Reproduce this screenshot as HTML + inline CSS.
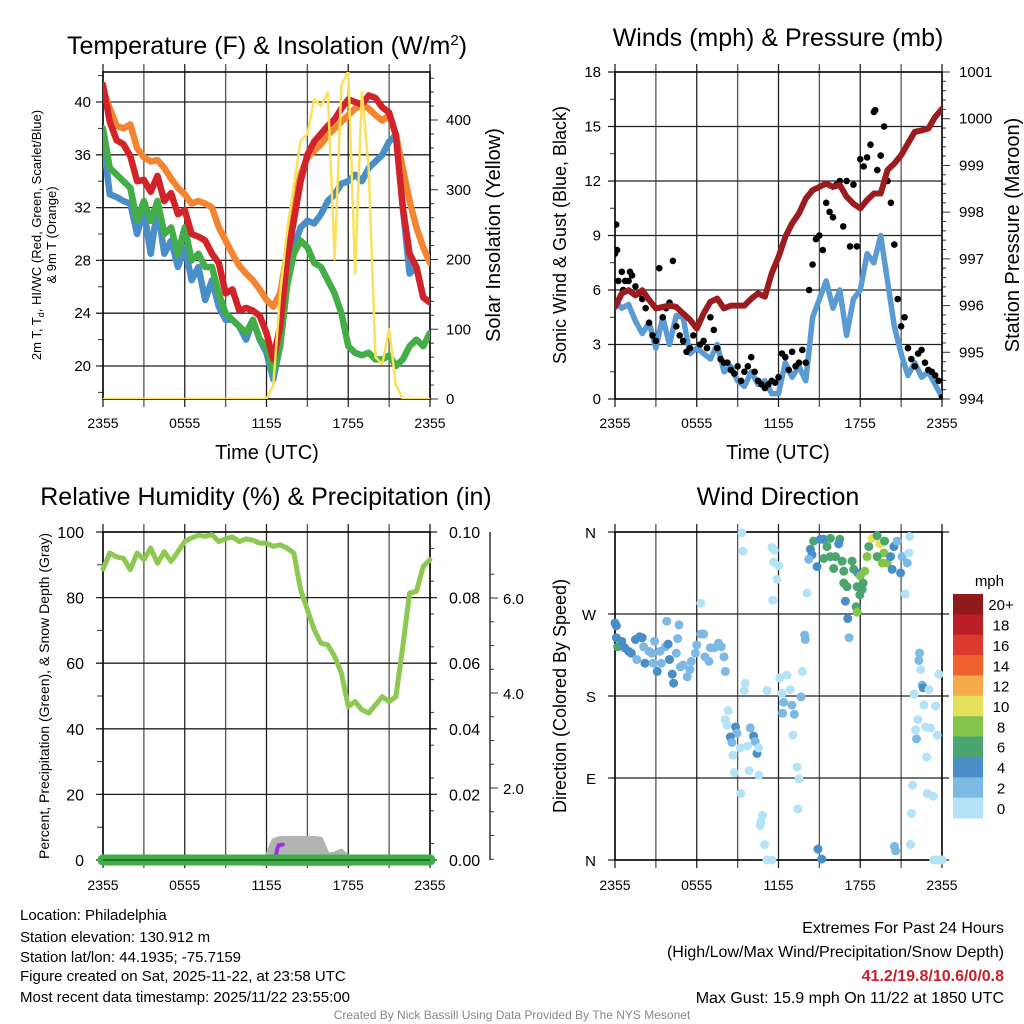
<!DOCTYPE html>
<html><head><meta charset="utf-8"><style>
html,body{margin:0;padding:0;background:#fff;}
svg{display:block;font-family:"Liberation Sans",Arial,sans-serif;}
</style></head><body>
<svg id="chart" width="1024" height="1024" viewBox="0 0 1024 1024" xmlns="http://www.w3.org/2000/svg">
<defs>
<clipPath id="c1"><rect x="103" y="72" width="327" height="327"/></clipPath>
<clipPath id="c2"><rect x="615" y="72" width="327" height="327"/></clipPath>
<clipPath id="c3"><rect x="97" y="526" width="340" height="340"/></clipPath>
<clipPath id="c4"><rect x="608" y="526" width="342" height="340"/></clipPath>
</defs>
<text x="267" y="54" font-size="25" text-anchor="middle">Temperature (F) &amp; Insolation (W/m<tspan font-size="15" dy="-9">2</tspan><tspan dy="9">)</tspan></text>
<text x="778" y="46" font-size="25" text-anchor="middle">Winds (mph) &amp; Pressure (mb)</text>
<text x="266" y="505" font-size="25" text-anchor="middle">Relative Humidity (%) &amp; Precipitation (in)</text>
<text x="778" y="505" font-size="25" text-anchor="middle">Wind Direction</text>
<text x="267" y="459" font-size="20" text-anchor="middle">Time (UTC)</text>
<text x="778" y="459" font-size="20" text-anchor="middle">Time (UTC)</text>
<text transform="translate(41,235) rotate(-90)" font-size="13" text-anchor="middle">2m T, T<tspan font-size="9" dy="3">d</tspan><tspan dy="-3">, HI/WC (Red, Green, Scarlet/Blue)</tspan></text>
<text transform="translate(56,235) rotate(-90)" font-size="13" text-anchor="middle">&amp; 9m T (Orange)</text>
<text transform="translate(500,235) rotate(-90)" font-size="20" text-anchor="middle">Solar Insolation (Yellow)</text>
<text transform="translate(566,235) rotate(-90)" font-size="18" text-anchor="middle">Sonic Wind &amp; Gust (Blue, Black)</text>
<text transform="translate(1019,235) rotate(-90)" font-size="20" text-anchor="middle">Station Pressure (Maroon)</text>
<text transform="translate(49,696) rotate(-90)" font-size="14" text-anchor="middle">Percent, Precipitation (Green), &amp; Snow Depth (Gray)</text>
<text transform="translate(566,696) rotate(-90)" font-size="18" text-anchor="middle">Direction (Colored By Speed)</text>
<text x="1004" y="586" font-size="15" text-anchor="end">mph</text>
<g font-size="15">
<text x="20" y="920">Location: Philadelphia</text>
<text x="20" y="942">Station elevation: 130.912 m</text>
<text x="20" y="962">Station lat/lon: 44.1935; -75.7159</text>
<text x="20" y="981">Figure created on Sat, 2025-11-22, at 23:58 UTC</text>
<text x="20" y="1002">Most recent data timestamp: 2025/11/22 23:55:00</text>
</g>
<g font-size="16" text-anchor="end">
<text x="1004" y="933">Extremes For Past 24 Hours</text>
<text x="1004" y="957">(High/Low/Max Wind/Precipitation/Snow Depth)</text>
<text x="1004" y="981" font-weight="bold" fill="#c8202a">41.2/19.8/10.6/0/0.8</text>
<text x="1004" y="1003">Max Gust: 15.9 mph On 11/22 at 1850 UTC</text>
</g>
<text x="512" y="1019" font-size="12" fill="#888" text-anchor="middle">Created By Nick Bassill Using Data Provided By The NYS Mesonet</text>
</svg>
<script>
// ---------- data ----------
const timeTickLabels = ["2355","0555","1155","1755","2355"];
const tempTicks = [20,24,28,32,36,40];
const insolTicks = [0,100,200,300,400];
const windTicks = [0,3,6,9,12,15,18];
const presTicks = [994,995,996,997,998,999,1000,1001];
const rhTicks = [0,20,40,60,80,100];
const precipTickLabels = ["0.00","0.02","0.04","0.06","0.08","0.10"];
const snowTicks = [2,4,6];
const dirTickLabels = ["N","E","S","W","N"];
const speedBinLabels = ["20+","18","16","14","12","10","8","6","4","2","0"];
// half-hourly temperature series (F), 0..24 h
const tempRed = [41.3,38.5,37.1,36.8,35.9,34.0,34.1,33.2,34.4,32.5,33.1,31.5,31.8,30.0,29.8,29.5,28.5,27.8,25.5,25.8,24.2,24.4,24.2,23.8,22.5,20.5,23,28,31,34,36,37,37.6,38.2,38.7,39.5,40.2,40.0,39.8,40.5,40.3,39.6,39.2,37.5,32,28.5,27.5,25.2,24.8];
const tempOrange = [41.0,39.5,38.2,38.0,38.3,36.5,35.8,35.5,35.6,35.0,34.2,33.5,33.0,32.3,32.5,32.3,32.0,30.5,29.5,28.5,27.6,27.0,26.5,25.8,25.0,24.5,25.5,28.5,32,34.5,35.8,36.3,36.8,37.5,38.0,38.5,39.0,39.5,39.8,39.5,39.0,38.6,39.0,37.5,35.0,32.5,30.5,29.0,27.8];
const tempGreen = [38.0,35.0,34.5,34.0,33.5,31.0,32.5,31.0,32.5,30.0,30.5,28.5,30.5,28.0,28.5,27.5,27.5,25.5,24.0,23.5,23.0,22.5,23.5,22.0,21.5,19.5,21.5,26,28.5,29.5,29.0,27.8,27.5,26.5,25.5,24.0,21.5,21.0,20.8,21.0,20.5,20.5,20.8,20.0,20.5,21.5,22.0,21.5,22.5];
const tempBlue = [37.0,33.0,32.8,32.5,32.3,30.0,31.8,28.5,32.0,28.5,29.5,27.5,29.0,26.5,27.5,25.0,26.5,24.5,23.5,23.5,23.0,22.0,23.5,22.0,21.0,19.0,21.5,26,29,30.5,31.0,30.8,31.5,32.5,33.0,33.8,34.0,34.5,34.0,35.0,35.5,36.0,37.0,37.5,32,27,27.5,25.2,24.8];
const insolation = [0,0,0,0,0,0,0,0,0,0,0,0,0,0,0,0,0,0,0,0,0,0,0,0,0,20,150,240,305,370,380,430,420,440,200,450,470,180,440,330,60,50,100,20,0,0,0,0,0];
// wind (mph) half-hourly, gust quarter-hourly, pressure (mb) half-hourly
const windSpeed = [5.4,5.0,5.2,4.3,3.6,4.2,2.8,4.5,3.0,4.6,4.5,2.5,2.8,2.5,2.2,3.0,1.5,1.8,1.0,0.7,1.5,0.8,1.0,0.3,0.3,2.0,1.2,1.8,1.0,4.5,5.5,6.5,5.0,6.0,3.5,5.5,6.0,8.0,7.5,9.0,6.5,4.0,2.5,1.3,2.0,1.2,1.5,0.8,0.1];
const windGust = [8.0,6.5,7.0,6.5,6.5,6.8,6.2,5.8,5.5,5.0,4.2,3.5,3.2,7.2,4.5,5.0,5.3,7.6,4.0,3.5,3.2,2.6,2.8,3.5,4.0,3.0,3.2,2.8,4.5,3.8,2.8,2.2,2.0,2.0,1.6,1.4,1.8,1.0,1.5,1.8,2.3,1.5,1.0,0.8,0.6,0.8,1.0,0.9,1.2,2.5,2.3,1.6,2.6,1.8,2.0,2.7,2.0,6.0,7.4,8.8,9.0,8.2,10.8,10.3,10.0,11.8,12.0,9.5,12.0,8.4,11.8,8.4,13.2,12.8,13.3,14.0,15.8,12.6,13.4,15.0,12.0,10.8,8.5,5.5,4.0,4.5,2.8,2.2,1.8,2.5,2.7,2.0,1.6,1.5,1.3,1.0,0.1];
const extraGustHours = [0.08,0.15,0.6,1.1,19.1];
const extraGust = [9.6,8.2,6.0,7.0,15.9];
const pressure = [995.97,996.26,996.33,996.22,996.33,996.12,995.94,995.97,996.0,995.97,995.83,995.7,995.51,995.83,996.08,996.15,995.94,996.0,996.0,996.0,996.15,996.26,996.19,996.69,997.04,997.47,997.76,997.97,998.29,998.47,998.54,998.61,998.54,998.58,998.33,998.18,998.08,998.26,998.4,998.4,998.9,999.04,999.22,999.47,999.72,999.75,999.79,1000.04,1000.21];
// RH (%) half-hourly
const humidity = [88.7,93.6,92.4,92,88.5,93.6,91.6,95.1,90.5,94,91,94,97.1,98.2,99,98.7,99.2,97.1,97.9,98.5,97.1,97.9,97.5,96.6,96.6,95.6,96.1,95.1,93.6,82.4,76.3,70.2,66.1,65.6,62.1,57,46.8,48.3,45.8,44.8,47.3,49.8,48.3,49.8,65.1,81.4,81.9,89.5,91.6];
const precipHours = [0,24];
const precip = [0,0];
const snowHours = [11.5,12,12.5,13,13.5,14,14.5,15,15.5,16,16.5,17,17.5,18,18.5];
const snowDepth = [0,0.55,0.9,0.95,0.95,0.95,0.95,0.95,0.95,0.93,0.6,0.62,0.68,0.55,0];
const rateHours = [12.7,12.8,12.9,13.2];
const precipRate = [0.0015,0.0035,0.0045,0.0047];
// wind direction points
const dirHours = [0.0,0.1,0.1,0.2,0.5,0.7,1.0,1.2,1.5,1.6,1.8,2.0,2.1,2.2,2.5,2.7,2.8,2.9,3.1,3.3,3.4,3.7,3.8,3.9,4.0,4.2,4.3,4.5,4.6,4.7,4.8,5.0,5.3,5.5,5.6,5.9,6.0,6.3,6.5,6.6,6.9,7.0,7.3,7.6,7.8,8.0,8.1,6.3,
9.31,9.39,11.52,11.69,11.64,12.01,11.89,11.57,14.09,13.92,13.97,9.56,9.49,8.31,8.09,8.21,8.85,8.95,8.46,8.58,9.93,10.17,10.29,10.42,10.54,8.65,9.19,9.73,8.75,9.83,10.56,9.24,10.83,10.71,10.66,10.98,11.15,11.52,11.15,12.08,12.62,12.25,12.87,12.38,12.30,12.99,13.65,13.16,13.06,13.75,13.36,13.5,13.41,14.9,15.17,
14.58,15.07,15.32,15.81,16.5,15.56,14.34,14.46,14.22,14.83,15.32,15.81,16.18,16.05,16.67,16.79,17.4,17.52,16.42,17.82,18.01,18.33,18.14,18.21,17.77,17.97,17.7,17.77,16.91,17.08,17.18,16.79,17.03,18.87,19.24,19.44,18.63,18.5,19.73,19.24,19.61,19.98,19.78,20.47,20.71,20.34,21.08,20.96,21.45,21.57,21.62,21.3,20.22,
22.35,22.3,22.43,22.55,22.62,23.04,21.94,22.67,23.53,22.23,22.06,22.13,22.79,23.16,23.65,22.87,23.77,21.84,22.92,23.36,21.76,21.69,20.51,20.59,23.4,23.77,24];
const dirDegrees = [260,257,244,234,240,233,229,227,242,220,245,244,234,216,229,227,216,240,207,229,216,234,262,237,220,204,194,227,243,258,212,214,201,209,218,227,236,248,248,223,218,233,233,238,234,223,207,282,
359,339,343,340,327,323,308,285,293,247,242,194,186,164,154,148,146,139,135,129,145,136,130,117,123,115,123,125,96,98,93,73,49,42,38,17,0,0,186,200,203,183,187,173,161,170,179,160,137,207,102,89,56,12,1,
350,352,352,353,352,344,341,335,330,322,331,333,333,320,328,317,328,319,347,315,312,317,297,304,300,291,278,272,284,265,244,304,300,353,356,347,344,333,337,333,326,326,350,344,350,319,333,315,326,337,355,292,333,
227,219,209,192,189,187,182,170,169,154,143,133,146,145,137,113,204,82,73,70,51,17,15,10,0,0,0];
const dirSpeeds = [4,4,4,6,4,4,4,4,4,3,4,4,3,4,3,2,3,3,4,3,2,3,3,4,4,4,4,3,3,2,3,3,3,3,3,3,3,3,3,3,2,3,3,3,3,2,2,1,
1,1,1,1,1,1,1,1,1,3,2,1,1,1,1,1,4,2,4,3,2,4,2,4,1,1,1,1,1,1,1,1,1,1,1,1,1,1,1,1,1,1,1,3,3,3,3,2,1,1,1,1,1,4,4,
6,4,4,7,7,7,4,4,3,4,6,6,6,6,6,6,6,6,4,4,9,8,7,7,6,6,6,8,4,4,3,6,6,10,6,10,7,8,8,6,8,8,6,4,3,4,3,4,3,1,1,1,4,
3,3,1,2,4,1,1,1,1,1,1,3,1,1,1,1,1,1,1,1,1,1,3,3,1,1,1];
const speedBinColors = ["#8e1a1c","#bb1f26","#dc3a2e","#ef6230","#f6aa4a","#e6e05a","#84c44d","#4ba56f","#4a8ec8","#7db9e5","#b4e2f7"];

// ---------- helpers ----------
const NS = "http://www.w3.org/2000/svg";
const svg = document.getElementById('chart');
function mk(tag, attrs, parent){ const e=document.createElementNS(NS,tag); for(const k in attrs) e.setAttribute(k,attrs[k]); (parent||svg).appendChild(e); return e; }
function lin(d0,d1,r0,r1){ return v => r0+(v-d0)/(d1-d0)*(r1-r0); }
function pathFrom(xs, ys){ return xs.map((x,i)=>(i?'L':'M')+x.toFixed(1)+','+ys[i].toFixed(1)).join(''); }
function halfHours(n){ const a=[]; for(let i=0;i<n;i++) a.push(i*0.5); return a; }

function frame(L,R,T,B,name){
  const g = mk('g',{},svg);
  
  
  const xs = lin(0,24,L,R);
  for(let h=0;h<=24;h+=3){
    const ln = mk('line',{x1:xs(h),x2:xs(h),y1:T-8,y2:B+8,stroke:(h%6===0?'#222':'#555'),'stroke-width':1.3},g);
    
    
  }
  return {g, xs};
}
function hline(g,L,R,y,name,ext){ const ln=mk('line',{x1:L-7,x2:R+(ext?7:0),y1:y,y2:y,stroke:'#222','stroke-width':1.3},g);   return ln; }
function label(txt,x,y,anchor,size,name){ const t=mk('text',{x:x,y:y,'text-anchor':anchor,'font-size':size||15}); t.textContent=txt;   return t; }
function tick(x1,y1,x2,y2,name){ const l=mk('line',{x1:x1,y1:y1,x2:x2,y2:y2,stroke:'#333','stroke-width':1});   }
function timeLabels(xs,y,name){ timeTickLabels.forEach((t,i)=>label(t,xs(i*6),y,'middle',14,name+'-x-tick-label')); }

// ---------- panel 1: temperature ----------
(function(){
  const L=103,R=430,T=72,B=399;
  const f = frame(L,R,T,B,'temperature');
  const ty = lin(20,40,366,102), iy = lin(0,400,399,120);
  for(let v=18;v<=42;v+=2) tick(L-5,ty(v),L,ty(v),'temperature-minor-tick');
  tempTicks.forEach(v=>{ hline(f.g,L,R,ty(v),'temperature-gridline'); label(String(v),L-12,ty(v)+5,'end',15,'temperature-y-tick-label'); });
  for(let v=0;v<=460;v+=20) tick(R,iy(v),R+(v%100===0?8:4),iy(v),'insolation-tick');
  insolTicks.forEach(v=>label(String(v),R+16,iy(v)+5,'start',15,'insolation-y-tick-label'));
  const ax1 = mk('rect',{x:L,y:T,width:R-L,height:B-T,fill:'none',stroke:'#000','stroke-width':1.5});
  
  
  const hx = halfHours(49).map(f.xs);
  const series = [[tempBlue,'#4a8ec8','wind-chill-line'],[tempGreen,'#43ad47','dewpoint-line'],[tempOrange,'#f48530','temp-9m-line'],[tempRed,'#d3232a','temp-2m-line']];
  series.forEach(s=>{
    const p = mk('path',{d:pathFrom(hx,s[0].map(ty)),fill:'none',stroke:s[1],'stroke-width':6.5,'stroke-linejoin':'round','stroke-linecap':'round','clip-path':'url(#c1)'});
    
    
  });
  const yl = mk('path',{d:pathFrom(hx,insolation.map(iy)),fill:'none',stroke:'#fbe15a','stroke-width':2.5,'stroke-linejoin':'round','clip-path':'url(#c1)'});
  
  
  timeLabels(f.xs,428,'temperature');
})();

// ---------- panel 2: winds ----------
(function(){
  const L=615,R=942,T=72,B=399;
  const f = frame(L,R,T,B,'winds');
  const wy = lin(0,18,399,72), py = lin(994,1001,399,72);
  for(let v=1.5;v<18;v+=3) tick(L-5,wy(v),L,wy(v),'wind-minor-tick');
  windTicks.forEach(v=>{ hline(f.g,L,R,wy(v),'wind-gridline'); label(String(v),L-14,wy(v)+5,'end',15,'wind-y-tick-label'); });
  for(let v=994;v<=1001.001;v+=0.2) tick(R,py(v),R+(Math.abs(v-Math.round(v))<0.01?8:4),py(v),'pressure-tick');
  presTicks.forEach(v=>label(String(v),R+17,py(v)+5,'start',15,'pressure-y-tick-label'));
  const ax = mk('rect',{x:L,y:T,width:R-L,height:B-T,fill:'none',stroke:'#000','stroke-width':1.5});
  
  
  const hx = halfHours(49).map(f.xs);
  const wl = mk('path',{d:pathFrom(hx,windSpeed.map(wy)),fill:'none',stroke:'#5a9bd3','stroke-width':5.5,'stroke-linejoin':'round','clip-path':'url(#c2)'});
  
  
  const gg = mk('g',{'clip-path':'url(#c2)'});
  
  
  windGust.forEach((v,i)=>{
    const c = mk('circle',{cx:f.xs(i*0.25),cy:wy(v),r:3.3,fill:'#000'},gg);
    
    
  });
  extraGust.forEach((v,i)=>{
    const c = mk('circle',{cx:f.xs(extraGustHours[i]),cy:wy(v),r:3.3,fill:'#000'},gg);
    
    
  });
  const pl = mk('path',{d:pathFrom(hx,pressure.map(py)),fill:'none',stroke:'#9b1b1e','stroke-width':6,'stroke-linejoin':'round','stroke-linecap':'round','clip-path':'url(#c2)'});
  
  
  timeLabels(f.xs,428,'winds');
})();

// ---------- panel 3: humidity ----------
(function(){
  const L=103,R=430,T=532,B=860;
  const f = frame(L,R,T,B,'humidity');
  const ry = lin(0,100,860,532), py = lin(0,0.1,860,532), sy = lin(0,6,883,598);
  for(let v=10;v<100;v+=20) tick(L-6,ry(v),L,ry(v),'humidity-minor-tick');
  rhTicks.forEach((v,i)=>{ hline(f.g,L,R,ry(v),'humidity-gridline',true); label(String(v),L-19,ry(v)+6,'end',16,'humidity-y-tick-label'); label(precipTickLabels[i],R+19,ry(v)+6,'start',16,'precip-y-tick-label'); });
  for(let v=0.005;v<0.1;v+=0.01) tick(R,py(v),R+4,py(v),'precip-minor-tick');
  const sa = mk('line',{x1:490,x2:490,y1:532,y2:860,stroke:'#333','stroke-width':1.5});
  
  
  for(let v=0.5;v<=6.6;v+=0.5) if(sy(v)>=532) tick(490,sy(v),490+(v%2===0?8:4),sy(v),'snow-depth-tick');
  snowTicks.forEach(v=>label(v.toFixed(1),503,sy(v)+6,'start',15,'snow-depth-tick-label'));
  const hx = halfHours(49).map(f.xs);
  const sxs = snowHours.map(f.xs), sys = snowDepth.map(sy);
  const sp = mk('path',{d:pathFrom(sxs,sys)+'Z',fill:'#b3b3b3',stroke:'#b3b3b3','stroke-width':4,'stroke-linejoin':'round','clip-path':'url(#c3)'});
  
  
  const ax = mk('rect',{x:L,y:T,width:R-L,height:B-T,fill:'none',stroke:'#000','stroke-width':1.5});
  
  
  const rl = mk('path',{d:pathFrom(hx,humidity.map(ry)),fill:'none',stroke:'#8dc850','stroke-width':5,'stroke-linejoin':'round','stroke-linecap':'round'});
  
  
  const pr = mk('path',{d:pathFrom(rateHours.map(f.xs),precipRate.map(py)),fill:'none',stroke:'#9b30e0','stroke-width':4,'stroke-linecap':'round'});
  
  
  const pc = mk('path',{d:pathFrom(precipHours.map(f.xs),precip.map(py)),fill:'none',stroke:'#3fae48','stroke-width':11,'stroke-linecap':'round','clip-path':'url(#c3)'});
  
  
  const bl = mk('line',{x1:L,x2:R,y1:B,y2:B,stroke:'#1c5a20','stroke-width':1.5});
  
  
  timeLabels(f.xs,890,'humidity');
})();

// ---------- panel 4: wind direction ----------
(function(){
  const L=615,R=942,T=532,B=860;
  const f = frame(L,R,T,B,'direction');
  const dy = lin(0,360,860,532);
  dirTickLabels.forEach((t,i)=>{ hline(f.g,L,R,dy(i*90),'direction-gridline',true); label(t,L-19,dy(i*90)+6,'end',15,'direction-y-tick-label'); });
  const ax = mk('rect',{x:L,y:T,width:R-L,height:B-T,fill:'none',stroke:'#000','stroke-width':1.5});
  
  
  const g = mk('g',{'clip-path':'url(#c4)'});
  
  
  dirHours.forEach((h,i)=>{
    const s = dirSpeeds[i];
    const bin = Math.min(10, Math.floor(s/2));
    const c = mk('circle',{cx:f.xs(h),cy:dy(dirDegrees[i]),r:4.5,fill:speedBinColors[10-bin]},g);
    
    
  });
  const cb = mk('g',{});
  
  
  const by = lin(0,11,594,818);
  speedBinLabels.forEach((t,i)=>{
    const r = mk('rect',{x:953,y:by(i),width:30,height:by(i+1)-by(i)+0.5,fill:speedBinColors[i]},cb);
    
    
    label(t,1001,(by(i)+by(i+1))/2+6,'middle',15,'colorbar-label');
  });
  timeLabels(f.xs,890,'direction');
})();
</script>
</body></html>
